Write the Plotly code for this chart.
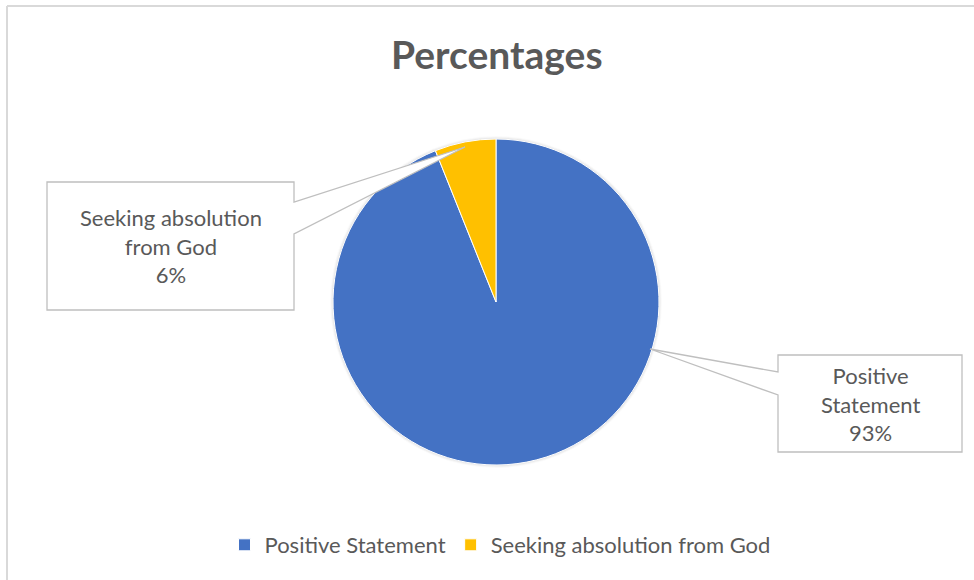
import plotly.graph_objects as go

# Data
categories = ["Positive Statement", "Seeking absolution from God"]
values = [93, 6]
percent_labels = ["93%", "6%"]
colors = ["#4472C4", "#FFC000"]

W, H = 974, 580
TEXT = "#595959"
FONT = "Lato"


def px(x, y):
    """Pixel position -> paper coordinates (margins are zero)."""
    return x / W, 1 - y / H


# Pie geometry in pixels
cx, cy, R = 496, 302, 163

fig = go.Figure()
fig.add_trace(go.Pie(
    labels=categories,
    values=values,
    sort=False,
    direction="clockwise",
    rotation=0,
    marker=dict(colors=colors, line=dict(color="white", width=1)),
    textinfo="none",
    hoverinfo="label+percent",
    domain=dict(x=[(cx - R) / W, (cx + R) / W], y=[1 - (cy + R) / H, 1 - (cy - R) / H]),
))


def callout_path(box, tip, side):
    """Rectangle with a tapered pointer leaving one vertical edge."""
    x0, y0, x1, y1 = box
    (ya, yb) = side["span"]
    if side["edge"] == "right":
        pts = [(x0, y0), (x1, y0), (x1, ya), tip, (x1, yb), (x1, y1), (x0, y1)]
    else:
        pts = [(x0, y0), (x1, y0), (x1, y1), (x0, y1), (x0, yb), tip, (x0, ya)]
    coords = [px(*p) for p in pts]
    return "M " + " L ".join(f"{a:.5f},{b:.5f}" for a, b in coords) + " Z"


callouts = [
    dict(box=(47, 182, 294, 310), tip=(465, 147), side=dict(edge="right", span=(202, 234)),
         text=f"Seeking absolution<br>from God<br>{percent_labels[1]}"),
    dict(box=(778, 355, 962, 452), tip=(650, 349), side=dict(edge="left", span=(372, 395)),
         text=f"Positive<br>Statement<br>{percent_labels[0]}"),
]

shapes = []
# soft edge around the pie
for i, a in enumerate([0.05, 0.035, 0.02]):
    r = R + 1 + i
    x0, y0 = px(cx - r, cy + r)
    x1, y1 = px(cx + r, cy - r)
    shapes.append(dict(type="circle", xref="paper", yref="paper", x0=x0, y0=y0, x1=x1, y1=y1,
                       fillcolor=f"rgba(0,0,0,{a})", line=dict(width=0), layer="below"))

annotations = []
for c in callouts:
    shapes.append(dict(type="path", xref="paper", yref="paper", path=callout_path(c["box"], c["tip"], c["side"]),
                       fillcolor="white", line=dict(color="#BFBFBF", width=1.3), layer="above"))
    bx0, by0, bx1, by1 = c["box"]
    ax, ay = px((bx0 + bx1) / 2, (by0 + by1) / 2)
    annotations.append(dict(xref="paper", yref="paper", x=ax, y=ay, text=c["text"], showarrow=False,
                            font=dict(family=FONT, size=22, color=TEXT), align="center",
                            xanchor="center", yanchor="middle"))

# chart frame (top and left edges)
fx0, fy0 = px(7, 6)
shapes.append(dict(type="line", xref="paper", yref="paper", x0=fx0, y0=fy0, x1=1, y1=fy0,
                   line=dict(color="#D9D9D9", width=2)))
shapes.append(dict(type="line", xref="paper", yref="paper", x0=fx0, y0=fy0, x1=fx0, y1=0,
                   line=dict(color="#D9D9D9", width=2)))

tx, ty = px(497, 54)
annotations.append(dict(xref="paper", yref="paper", x=tx, y=ty, text="<b>Percentages</b>", showarrow=False,
                        font=dict(family=FONT, size=39, color=TEXT), xanchor="center", yanchor="middle"))

lx, ly = px(500, 545)
fig.update_layout(
    width=W, height=H,
    margin=dict(l=0, r=0, t=0, b=0),
    paper_bgcolor="white",
    plot_bgcolor="white",
    shapes=shapes,
    annotations=annotations,
    showlegend=True,
    legend=dict(orientation="h", x=lx, y=ly, xanchor="center", yanchor="middle",
                font=dict(family=FONT, size=22, color=TEXT), itemwidth=30,
                bgcolor="rgba(0,0,0,0)"),
)

fig.write_html("out.html")
